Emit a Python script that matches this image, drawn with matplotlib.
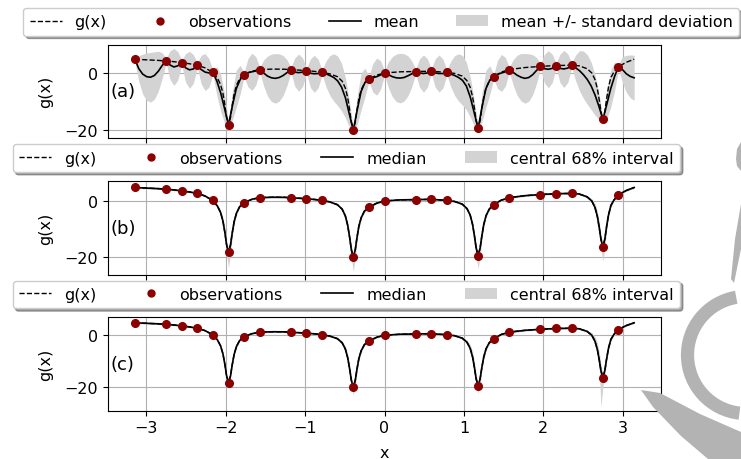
import numpy as np
import matplotlib
matplotlib.use("Agg")
import matplotlib.pyplot as plt
from matplotlib.patches import Patch, Polygon, Arc
from matplotlib.lines import Line2D

# ---------------- data ----------------
# observations
obs_x = [-3.142, -2.749, -2.553, -2.356, -2.160, -1.963, -1.767, -1.571, -1.178, -0.982,
         -0.785, -0.393, -0.196, 0.000, 0.393, 0.589, 0.785, 1.178, 1.374, 1.571,
         1.963, 2.160, 2.356, 2.749, 2.945]
obs_y = [4.8, 4.2, 3.6, 2.7, 0.2, -18.2, -0.6, 1.2, 1.1, 0.8,
         0.2, -20.0, -2.2, 0.0, 0.5, 0.6, 0.2, -19.4, -1.3, 1.2,
         2.3, 2.6, 2.7, -16.3, 2.2]

# true function g(x) (also the medians of panels b and c)
g_x = [-3.142, -3.0, -2.85, -2.749, -2.65, -2.553, -2.45, -2.356, -2.26,
       -2.163, -2.103, -2.063, -2.033, -2.008, -1.988, -1.963, -1.938, -1.918, -1.893, -1.863, -1.823, -1.767,
       -1.67, -1.571, -1.4, -1.25, -1.178, -1.08, -0.982, -0.88, -0.785, -0.69,
       -0.593, -0.533, -0.493, -0.463, -0.438, -0.418, -0.393, -0.368, -0.348, -0.323, -0.293, -0.253, -0.196,
       -0.1, 0.0, 0.2, 0.393, 0.589, 0.785, 0.88,
       0.978, 1.038, 1.078, 1.108, 1.133, 1.153, 1.178, 1.203, 1.223, 1.248, 1.278, 1.318, 1.374,
       1.47, 1.571, 1.77, 1.963, 2.16, 2.356, 2.449,
       2.549, 2.609, 2.649, 2.679, 2.704, 2.724, 2.749, 2.774, 2.794, 2.819, 2.849, 2.889, 2.945,
       3.04, 3.142]
g_y = [4.8, 4.6, 4.4, 4.2, 3.95, 3.6, 3.2, 2.7, 1.8,
       0.2, -1.8, -4.1, -7.2, -11.4, -15.5, -18.2, -15.6, -11.6, -7.4, -4.3, -2.0, -0.6,
       0.6, 1.2, 1.35, 1.3, 1.1, 1.0, 0.8, 0.55, 0.2, -0.3,
       -1.3, -2.9, -5.3, -8.7, -13.1, -17.2, -20.0, -17.3, -13.3, -9.0, -5.9, -3.6, -2.2,
       -0.8, 0.0, 0.4, 0.5, 0.6, 0.2, -0.15,
       -1.1, -2.7, -5.0, -8.3, -12.6, -16.7, -19.4, -16.8, -12.8, -8.5, -5.2, -2.9, -1.3,
       0.3, 1.2, 1.9, 2.3, 2.6, 2.7, 2.5,
       1.5, 0.0, -2.3, -5.5, -9.7, -13.6, -16.3, -13.4, -9.3, -5.0, -1.6, 0.4, 2.2,
       3.7, 4.8]

# panel (b): interval below / above the median
b_dev_lo = [0.3, 0.3, 0.3, 0.3, 0.3, 0.3, 0.3, 0.3, 0.3,
            0.4, 0.6, 1.0, 1.5, 2.2, 3.2, 5.5, 3.0, 1.8, 1.1, 0.7, 0.5, 0.4,
            0.3, 0.3, 0.3, 0.3, 0.3, 0.3, 0.3, 0.3, 0.3, 0.3,
            0.4, 0.6, 1.0, 1.5, 2.2, 3.2, 5.0, 3.0, 1.8, 1.1, 0.7, 0.5, 0.4,
            0.3, 0.3, 0.3, 0.3, 0.3, 0.3, 0.3,
            0.4, 0.6, 1.0, 1.5, 2.2, 3.2, 4.6, 3.0, 1.8, 1.1, 0.7, 0.5, 0.4,
            0.3, 0.3, 0.3, 0.3, 0.3, 0.3, 0.3,
            0.4, 0.6, 1.0, 1.5, 2.2, 3.2, 5.0, 3.0, 1.8, 1.1, 0.7, 0.5, 0.4,
            0.3, 0.3]
b_dev_hi = [0.3, 0.3, 0.3, 0.3, 0.3, 0.3, 0.3, 0.3, 0.3,
            0.3, 0.5, 0.8, 1.2, 1.6, 1.6, 1.0, 1.2, 1.0, 0.8, 0.6, 0.4, 0.3,
            0.3, 0.3, 0.3, 0.3, 0.3, 0.3, 0.3, 0.3, 0.3, 0.3,
            0.3, 0.5, 0.8, 1.2, 1.6, 1.6, 1.0, 1.2, 1.0, 0.8, 0.6, 0.4, 0.3,
            0.3, 0.3, 0.3, 0.3, 0.3, 0.3, 0.3,
            0.3, 0.5, 0.8, 1.2, 1.6, 1.6, 1.0, 1.2, 1.0, 0.8, 0.6, 0.4, 0.3,
            0.3, 0.3, 0.3, 0.3, 0.3, 0.3, 0.3,
            0.4, 0.8, 1.4, 2.0, 2.2, 1.8, 1.0, 1.2, 1.0, 0.8, 0.6, 0.4, 0.3,
            0.3, 0.3]

# panel (c): interval below / above the median
c_dev_lo = [0.3, 0.3, 0.3, 0.3, 0.3, 0.3, 0.3, 0.3, 0.3,
            0.3, 0.4, 0.5, 0.6, 0.8, 0.9, 1.0, 0.9, 0.8, 0.6, 0.5, 0.4, 0.3,
            0.3, 0.3, 0.3, 0.3, 0.3, 0.3, 0.3, 0.3, 0.3, 0.3,
            0.4, 0.6, 0.9, 1.3, 1.8, 2.4, 3.0, 2.2, 1.5, 1.0, 0.7, 0.5, 0.4,
            0.3, 0.3, 0.3, 0.3, 0.3, 0.3, 0.3,
            0.4, 0.6, 0.9, 1.3, 1.8, 2.4, 3.0, 2.2, 1.5, 1.0, 0.7, 0.5, 0.4,
            0.3, 0.3, 0.3, 0.3, 0.3, 0.3, 0.3,
            0.4, 0.6, 1.0, 1.6, 4.0, 14.1, 3.5, 2.0, 1.4, 1.0, 0.7, 0.5, 0.4,
            0.3, 0.3]
c_dev_hi = [0.3, 0.3, 0.3, 0.3, 0.3, 0.3, 0.3, 0.3, 0.3,
            0.3, 0.4, 0.5, 0.6, 0.7, 0.7, 0.6, 0.7, 0.7, 0.6, 0.5, 0.4, 0.3,
            0.3, 0.3, 0.3, 0.3, 0.3, 0.3, 0.3, 0.3, 0.3, 0.3,
            0.4, 0.7, 1.1, 1.5, 1.7, 1.5, 1.0, 1.0, 0.8, 0.6, 0.5, 0.4, 0.3,
            0.3, 0.3, 0.3, 0.3, 0.3, 0.3, 0.3,
            0.5, 0.9, 1.5, 2.0, 2.2, 1.8, 1.0, 1.0, 0.8, 0.6, 0.5, 0.4, 0.3,
            0.3, 0.3, 0.3, 0.3, 0.3, 0.3, 0.3,
            0.5, 1.0, 1.8, 2.6, 3.0, 2.4, 1.2, 1.0, 0.8, 0.6, 0.5, 0.4, 0.3,
            0.3, 0.3]

# panel (a): posterior mean and standard deviation on a grid of step pi/64
a_x = list(np.linspace(-np.pi, np.pi, 129))
a_mean = [4.8, 1.5, -0.4, -1.3, -1.5, -0.9, 0.6, 2.6,
          4.2, 2.8, 2.1, 2.5,
          3.6, 1.8, 1.1, 1.4,
          2.7, 1.2, 0.3, 0.0,
          0.2, -2.8, -7.0, -12.5,
          -18.2, -11.5, -5.5, -2.3,
          -0.6, 0.1, 0.4, 0.7,
          1.2, 0.0, -1.1, -1.7, -1.9, -1.6, -0.9, 0.1,
          1.1, 0.3, 0.1, 0.3,
          0.8, -0.1, -0.3, -0.2,
          0.2, -0.3, -0.9, -1.6, -2.8, -5.0, -8.8, -14.5,
          -20.0, -13.0, -6.5, -3.3,
          -2.2, -1.7, -1.3, -0.7,
          0.0, -0.6, -1.3, -1.7, -1.8, -1.6, -1.0, -0.3,
          0.5, 0.0, -0.2, 0.0,
          0.6, 0.0, -0.2, -0.2,
          0.2, -0.4, -0.9, -1.6, -2.6, -4.6, -8.5, -14.0,
          -19.4, -12.0, -5.5, -2.5,
          -1.3, -0.5, 0.0, 0.4,
          1.2, 0.2, -0.8, -1.5, -1.9, -1.6, -0.6, 0.9,
          2.3, 1.5, 1.3, 1.6,
          2.6, 1.6, 1.4, 1.7,
          2.7, 1.8, 0.8, -0.6, -2.3, -4.6, -7.8, -11.8,
          -16.3, -11.0, -5.5, -1.2,
          2.2, 1.2, -0.3, -1.2,
          -1.7]
a_std = [0.8, 4.5, 7.0, 8.3, 8.7, 8.3, 7.0, 4.5,
         0.8, 5.0, 6.5, 5.0,
         0.8, 5.0, 6.5, 5.0,
         0.8, 5.0, 6.5, 5.0,
         0.8, 5.0, 6.5, 5.0,
         0.8, 5.0, 6.5, 5.0,
         0.8, 5.0, 6.5, 5.0,
         0.8, 4.5, 7.0, 8.3, 8.7, 8.3, 7.0, 4.5,
         0.8, 5.0, 6.5, 5.0,
         0.8, 5.0, 6.5, 5.0,
         0.8, 4.5, 7.0, 8.3, 8.7, 8.3, 7.0, 4.5,
         0.8, 5.0, 6.5, 5.0,
         0.8, 5.0, 6.5, 5.0,
         0.8, 4.5, 7.0, 8.3, 8.7, 8.3, 7.0, 4.5,
         0.8, 5.0, 6.5, 5.0,
         0.8, 5.0, 6.5, 5.0,
         0.8, 4.5, 7.0, 8.3, 8.7, 8.3, 7.0, 4.5,
         0.8, 5.0, 6.5, 5.0,
         0.8, 5.0, 6.5, 5.0,
         0.8, 4.5, 7.0, 8.3, 8.7, 8.3, 7.0, 4.5,
         0.8, 5.0, 6.5, 5.0,
         0.8, 5.0, 6.5, 5.0,
         0.8, 4.5, 7.0, 8.3, 8.7, 8.3, 7.0, 4.5,
         0.8, 5.0, 6.5, 5.0,
         0.8, 4.5, 6.5, 7.5,
         7.9]

x_ticks = [-3, -2, -1, 0, 1, 2, 3]
y_ticks = [-20, 0]
panel_labels = ["(a)", "(b)", "(c)"]
legend_a = ["g(x)", "observations", "mean", "mean +/- standard deviation"]
legend_bc = ["g(x)", "observations", "median", "central 68% interval"]

# ---------------- figure ----------------
W, H = 741, 460
fig = plt.figure(figsize=(W / 100, H / 100), dpi=100)
FS = 11.5
plt.rcParams["font.size"] = FS

# layout in pixels: (left, top, right, bottom)
axes_px = [(108, 45.7, 661, 139.0), (108, 182.3, 661, 276.0), (108, 318.3, 661, 411.7)]
legend_px = [(23.3, 8.3, 739.0, 36.7), (12.7, 145.0, 680.0, 173.0), (12.7, 281.0, 680.0, 309.3)]
ylims = [(-22.8, 9.9), (-26.3, 7.0), (-29.0, 6.9)]


def frac_box(left, top, right, bottom):
    return [left / W, 1 - bottom / H, (right - left) / W, (bottom - top) / H]


def fpt(px, py):
    return (px / W, 1 - py / H)


# grey watermark strokes at the right edge (behind everything)
wm_color = "#b3b3b3"
fig.patches.append(Arc(fpt(746, 356), 117 / W, 117 / H, theta1=96, theta2=266,
                       lw=9.5, color=wm_color, transform=fig.transFigure, zorder=0))
for poly in [
        [(741, 143), (737, 150), (736, 160), (737, 167), (741, 172)],
        [(741, 205), (748, 205), (741, 250), (734, 284), (731, 280), (735, 240)],
        [(641, 391), (660, 394), (700, 415), (741, 433), (741, 460), (708, 460),
         (681, 437), (653, 408)]]:
    fig.patches.append(Polygon([fpt(px, py) for px, py in poly], closed=True,
                               facecolor=wm_color, edgecolor="none",
                               transform=fig.transFigure, zorder=0))

band_color = "#d3d3d3"
obs_color = "#8b0000"

gx = np.array(g_x)
gy = np.array(g_y)

for i in range(3):
    ax = fig.add_axes(frac_box(*axes_px[i]))
    if i == 0:
        m = np.array(a_mean)
        s = np.array(a_std)
        ax.fill_between(a_x, m - s, m + s, color=band_color, lw=0, zorder=1)
        ax.plot(gx, gy, color="black", ls="--", lw=1.0, zorder=3)
        ax.plot(a_x, m, color="black", lw=1.2, zorder=4)
        labels = legend_a
    else:
        lo = np.array(b_dev_lo if i == 1 else c_dev_lo)
        hi = np.array(b_dev_hi if i == 1 else c_dev_hi)
        ax.fill_between(gx, gy - lo, gy + hi, color=band_color, lw=0, zorder=1)
        ax.plot(gx, gy, color="black", lw=1.2, zorder=3)
        ax.plot(gx, gy, color="black", ls="--", lw=1.0, zorder=4)
        labels = legend_bc
    ax.plot(obs_x, obs_y, "o", color=obs_color, ms=5.5, zorder=5)

    ax.set_xlim(-3.48, 3.48)
    ax.set_ylim(*ylims[i])
    ax.set_xticks(x_ticks)
    ax.set_yticks(y_ticks)
    ax.grid(True, color="#b0b0b0", lw=0.8)
    ax.set_axisbelow(True)
    ax.tick_params(labelsize=FS)
    ax.set_ylabel("g(x)", fontsize=FS)
    ax.yaxis.set_label_coords(-0.1, 0.5)
    if i < 2:
        ax.set_xticklabels([])
    else:
        ax.set_xlabel("x", fontsize=FS, labelpad=7)
    ax.text(0.005, 0.5, panel_labels[i], transform=ax.transAxes, fontsize=13,
            va="center", ha="left", zorder=6)

    handles = [Line2D([], [], color="black", ls="--", lw=1.0),
               Line2D([], [], color=obs_color, marker="o", ls="none", ms=5),
               Line2D([], [], color="black", lw=1.2),
               Patch(facecolor=band_color, edgecolor="none")]
    l, t, r, b = legend_px[i]
    ax.legend(handles, labels, loc="lower left", mode="expand", ncol=4,
              bbox_to_anchor=(l / W, 1 - b / H, (r - l) / W, (b - t) / H),
              bbox_transform=fig.transFigure, borderaxespad=0, fontsize=FS,
              fancybox=True, shadow=True, framealpha=1, handlelength=2.0)

fig.savefig("out.png", dpi=100, facecolor="white")
